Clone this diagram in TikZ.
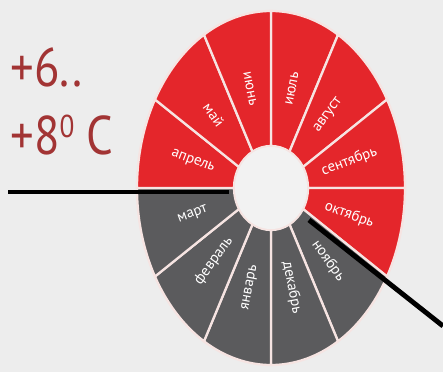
\documentclass[tikz,border=0pt]{standalone}
\usepackage{fontspec}
\setmainfont{PT Sans}
\newfontfamily\narrowface[FakeStretch=0.86]{PT Sans}
\usetikzlibrary{positioning}
\definecolor{ringred}{HTML}{E4262B}
\definecolor{ringgrey}{HTML}{5B5B5D}
\definecolor{paper}{HTML}{EDEDED}
\definecolor{hole}{HTML}{F2F2F2}
\definecolor{gap}{HTML}{F6E4E2}
\definecolor{tempred}{HTML}{A23434}

\begin{document}
\begin{tikzpicture}[x=0.02cm,y=0.02cm,
  seg/.style={draw=gap,line width=1.3pt},
  month/.style={font=\fontsize{8.5}{9}\selectfont,text=white,inner sep=0pt},
  temp/.style={font=\narrowface\fontsize{31}{31}\selectfont,text=tempred,anchor=base west,inner sep=0pt},
  rod/.style={line width=2.8pt,black}]
\fill[paper] (0,0) rectangle (443,372);
\useasboundingbox (0,0) rectangle (443,372);
\def\cx{271}\def\cy{184}
% twelve months round the ring
\foreach \m/\name/\col [count=\i] in {75/июль/ringred,45/август/ringred,15/сентябрь/ringred,
    -15/октябрь/ringred,-45/ноябрь/ringgrey,-75/декабрь/ringgrey,-105/январь/ringgrey,
    -135/февраль/ringgrey,-165/март/ringgrey,165/апрель/ringred,135/май/ringred,105/июнь/ringred}{
  \pgfmathsetmacro\a{\m-15}
  \pgfmathsetmacro\b{\m+15}
  \fill[\col,seg] ({\cx+134*cos(\a)},{\cy+177*sin(\a)})
    arc[start angle=\a,end angle=\b,x radius=134,y radius=177]
    -- ({\cx+37*cos(\b)},{\cy+42*sin(\b)})
    arc[start angle=\b,end angle=\a,x radius=37,y radius=42] -- cycle;
  \pgfmathsetmacro\rot{atan2(135*sin(\m),97*cos(\m))}
  \pgfmathsetmacro\rot{cos(\m)<0 ? \rot+180 : \rot}
  \node[month,rotate=\rot] (m\i) at ({\cx+81*cos(\m)},{\cy+103*sin(\m)}) {\name};
}
\fill[hole] (\cx,\cy) ellipse[x radius=36,y radius=41];
% temperature
\node[temp] (t1) at (10,285) {+6..};
\node[temp] (t2) at (10,217) {+8\raisebox{0.32em}{\fontsize{18}{18}\selectfont 0} C};
% black rods
\coordinate (wend) at (8,180);
\coordinate (whub) at (229,180);
\coordinate (ehub) at (309,152);
\coordinate (eend) at (443,46);
\draw[rod] (wend) -- (whub);
\draw[rod] (ehub) -- (eend);
\end{tikzpicture}
\end{document}
